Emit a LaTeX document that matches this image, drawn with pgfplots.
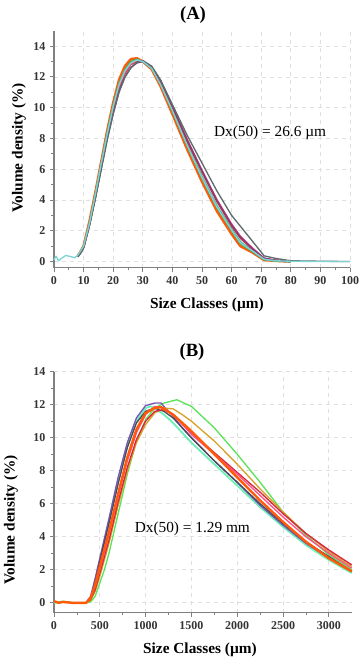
\documentclass[border=0pt]{standalone}
\usepackage{fontspec}
\setmainfont{Liberation Serif}
\usepackage{pgfplots}
\pgfplotsset{compat=1.18}

\definecolor{cOrange}{HTML}{FF5A0A}
\definecolor{cGreen}{HTML}{3CB44B}
\definecolor{cTeal}{HTML}{3FBFA0}
\definecolor{cCyan}{HTML}{7ED3D3}
\definecolor{cRed}{HTML}{D7263D}
\definecolor{cPink}{HTML}{FF4F8B}
\definecolor{cPurple}{HTML}{7B3F7B}
\definecolor{cGrey}{HTML}{5E6B6C}
\definecolor{cLime}{HTML}{5BE35B}
\definecolor{cMint}{HTML}{6FF0B8}
\definecolor{cGold}{HTML}{D6A22A}
\definecolor{cDark}{HTML}{4A4A5A}
\definecolor{axgrey}{HTML}{808080}

\pgfplotsset{
  psd/.style={
    scale only axis,
    axis lines=left,
    axis line style={-, axgrey, line width=0.8pt},
    tick align=outside,
    tick style={axgrey, line width=0.6pt},
    major tick length=3pt, minor tick length=2pt,
    minor x tick num=1, minor y tick num=1,
    grid=major,
    grid style={dashed, gray!25, line width=0.5pt},
    ticklabel style={font=\bfseries\small, text=black!80},
    /pgf/number format/assume math mode=true,
    every axis plot/.append style={line width=1pt, line join=round},
    clip=false,
  }
}

\begin{document}
\begin{tikzpicture}
\useasboundingbox (-40.5pt,23.025pt) rectangle (231pt,-471.975pt);

% ---------- (A) ----------
\begin{axis}[psd,
  at={(0pt,0pt)}, anchor=north west,
  width=222pt, height=177.75pt,
  xmin=0, xmax=100, ymin=-0.4, ymax=15,
  xtick={0,10,...,100}, ytick={0,2,...,14},
]
\addplot[cOrange, line width=2pt] coordinates {
 (8,0.35)(9,0.65)(10,1.0)(12,2.6)(14,4.5)(16,6.5)(18,8.5)(20,10.3)(22,11.8)
 (24,12.7)(26,13.15)(28,13.2)(30,13.0)(33,12.5)(36,11.4)(40,9.6)(45,7.3)
 (50,5.2)(55,3.3)(60,1.8)(63,1.0)(67,0.6)(71,0.1)(75,0.05)(80,0)
};
\addplot[cGreen] coordinates {
 (8,0.35)(9,0.6)(10,0.95)(12,2.5)(14,4.4)(16,6.4)(18,8.4)(20,10.2)(22,11.6)
 (24,12.5)(26,13.0)(28,13.15)(30,13.0)(33,12.55)(36,11.5)(40,9.75)(45,7.5)
 (50,5.4)(55,3.5)(60,2.0)(63,1.15)(67,0.65)(71,0.12)(75,0.05)(80,0)
};
\addplot[cTeal, line width=1.6pt] coordinates {
 (8,0.33)(9,0.6)(10,0.95)(12,2.45)(14,4.3)(16,6.3)(18,8.3)(20,10.0)(22,11.5)
 (24,12.4)(26,12.9)(28,13.1)(30,13.0)(33,12.6)(36,11.6)(40,9.85)(45,7.6)
 (50,5.5)(55,3.6)(60,2.1)(63,1.25)(67,0.7)(71,0.15)(75,0.05)(80,0)
};
\addplot[cRed] coordinates {
 (8,0.33)(9,0.58)(10,0.9)(12,2.4)(14,4.2)(16,6.2)(18,8.1)(20,9.8)(22,11.3)
 (24,12.2)(26,12.8)(28,13.0)(30,13.05)(33,12.65)(36,11.7)(40,10.0)(45,7.8)
 (50,5.8)(55,3.9)(60,2.3)(63,1.5)(67,0.8)(71,0.2)(75,0.08)(80,0.02)
};
\addplot[cPink] coordinates {
 (8,0.33)(9,0.58)(10,0.92)(12,2.42)(14,4.25)(16,6.25)(18,8.2)(20,9.9)(22,11.4)
 (24,12.3)(26,12.85)(28,13.05)(30,13.05)(33,12.65)(36,11.75)(40,10.1)(45,7.95)
 (50,5.95)(55,4.05)(60,2.45)(63,1.65)(67,0.9)(71,0.22)(75,0.08)(80,0.02)
};
\addplot[cPurple] coordinates {
 (8,0.32)(9,0.56)(10,0.9)(12,2.38)(14,4.15)(16,6.1)(18,8.0)(20,9.6)(22,11.1)
 (24,12.0)(26,12.6)(28,12.9)(30,13.0)(33,12.6)(36,11.75)(40,10.1)(45,7.9)
 (50,5.9)(55,4.0)(60,2.4)(63,1.6)(67,0.85)(71,0.22)(75,0.08)(80,0.02)
};
\addplot[cGrey] coordinates {
 (8,0.3)(9,0.55)(10,0.9)(12,2.35)(14,4.1)(16,6.0)(18,7.9)(20,9.6)(22,11.0)
 (24,12.0)(26,12.6)(28,12.95)(30,13.05)(33,12.7)(36,11.8)(40,10.2)(45,8.2)
 (50,6.4)(55,4.6)(60,3.0)(64,2.05)(71,0.37)(75,0.2)(80,0.05)(90,0.02)(100,0)
};
\addplot[cCyan] coordinates {
 (0,0.1)(0.7,0.35)(1.5,0.05)(2.5,0.2)(4,0.4)(5,0.35)(6,0.3)(7,0.25)(8,0.4)
 (9,0.7)(10,1.0)(12,2.5)(14,4.4)(16,6.4)(18,8.3)(20,10.1)(22,11.5)(24,12.4)
 (26,12.9)(28,13.1)(30,13.0)(33,12.55)(36,11.5)(40,9.8)(45,7.55)(50,5.45)
 (55,3.55)(60,2.05)(63,1.2)(67,0.7)(71,0.15)(75,0.05)(80,0.02)(90,0)(100,0)
};
\node[font=\fontsize{11.5}{13}\selectfont] at (axis cs:73,8.34) {Dx(50) = 26.6 µm};
\end{axis}

% ---------- (B) ----------
\begin{axis}[psd,
  at={(0pt,-255.75pt)}, anchor=north west,
  width=223.3pt, height=180.75pt,
  xmin=0, xmax=3250, ymin=-0.6, ymax=14,
  xtick={0,500,...,3000}, ytick={0,2,...,14},
  scaled x ticks=false,
  xticklabel style={/pgf/number format/set thousands separator={}},
]
\addplot[cMint, line width=1.4pt] coordinates {
 (0,0)(100,0.05)(200,0)(350,0)(400,0.3)(450,1.2)(500,2.4)(600,4.9)(700,7.4)
 (800,9.5)(900,11.0)(1000,11.8)(1050,11.9)(1100,11.8)(1200,11.4)(1300,10.9)
 (1400,10.3)(1500,9.7)(1750,8.4)(2000,7.1)(2250,5.8)(2500,4.6)(2750,3.5)
 (3000,2.6)(3250,1.8)
};
\addplot[cLime] coordinates {
 (0,0)(100,0.1)(200,0)(350,0)(400,0.05)(450,0.4)(500,1.2)(550,2.0)(600,3.0)
 (700,5.4)(800,7.8)(900,9.8)(1000,11.1)(1100,11.8)(1200,12.1)(1340,12.3)
 (1500,11.9)(1750,10.6)(2000,9.0)(2250,7.3)(2500,5.5)(2750,4.1)(3000,2.9)
 (3250,2.0)
};
\addplot[cPurple!70!blue!80] coordinates {
 (350,0)(400,0.4)(450,1.5)(500,2.7)(600,5.1)(700,7.6)(800,9.7)(900,11.2)
 (1000,11.95)(1100,12.1)(1170,12.1)(1200,11.9)(1300,11.3)(1400,10.6)
 (1500,10.0)(1750,8.6)(2000,7.3)(2250,5.9)(2500,4.7)(2750,3.6)(3000,2.7)
 (3250,1.9)
};
\addplot[cDark] coordinates {
 (350,0)(400,0.3)(450,1.3)(500,2.5)(600,4.8)(700,7.2)(800,9.4)(900,10.9)
 (1000,11.6)(1100,11.8)(1200,11.6)(1300,11.2)(1400,10.6)(1500,10.0)
 (1750,8.6)(2000,7.3)(2250,6.0)(2500,4.8)(2750,3.7)(3000,2.8)(3250,1.9)
};
\addplot[cGold] coordinates {
 (350,0)(400,0.15)(450,0.7)(500,1.6)(600,3.6)(700,5.9)(800,8.0)(900,9.7)
 (1000,10.8)(1100,11.5)(1200,11.8)(1300,11.75)(1400,11.4)(1500,11.0)
 (1750,9.8)(2000,8.4)(2250,6.9)(2500,5.5)(2750,4.2)(3000,3.1)(3250,2.2)
};
\addplot[cRed] coordinates {
 (350,0)(400,0.2)(450,0.8)(500,1.8)(600,3.8)(700,6.1)(800,8.2)(900,9.9)
 (1000,11.0)(1100,11.6)(1200,11.7)(1300,11.4)(1400,10.9)(1500,10.3)
 (1750,9.1)(2000,7.9)(2250,6.7)(2500,5.4)(2750,4.2)(3000,3.2)(3250,2.3)
};
\addplot[cPink] coordinates {
 (350,0)(400,0.25)(450,1.0)(500,2.0)(600,4.1)(700,6.4)(800,8.6)(900,10.3)
 (1000,11.4)(1100,11.9)(1200,11.8)(1300,11.4)(1400,10.8)(1500,10.2)
 (1750,9.0)(2000,7.8)(2250,6.5)(2500,5.2)(2750,4.0)(3000,3.0)(3250,2.1)
};
\addplot[cOrange, line width=1.8pt] coordinates {
 (0,0.1)(50,0)(100,0.05)(200,0)(350,0)(400,0.3)(450,1.1)(500,2.2)(600,4.3)
 (700,6.6)(800,8.8)(900,10.5)(1000,11.5)(1100,11.8)(1170,11.85)(1200,11.75)
 (1300,11.4)(1400,10.9)(1500,10.4)(1750,9.0)(2000,7.6)(2250,6.2)(2500,4.9)
 (2750,3.7)(3000,2.7)(3250,1.9)
};
\node[font=\fontsize{11.5}{13}\selectfont] at (axis cs:1510,4.47) {Dx(50) = 1.29 mm};
\end{axis}

% titles and axis labels
\node[font=\bfseries\fontsize{14}{16}\selectfont] at (104.25pt,11.8pt) {(A)};
\node[font=\bfseries\fontsize{11.5}{13}\selectfont] at (114.75pt,-205.7pt) {Size Classes (µm)};
\node[font=\bfseries\fontsize{11.5}{13}\selectfont, rotate=90] at (-26.25pt,-88pt) {Volume density (\%)};
\node[font=\bfseries\fontsize{14}{16}\selectfont] at (103.5pt,-240.75pt) {(B)};
\node[font=\bfseries\fontsize{11.5}{13}\selectfont] at (109.5pt,-464.5pt) {Size Classes (µm)};
\node[font=\bfseries\fontsize{11.5}{13}\selectfont, rotate=90] at (-32.25pt,-367pt) {Volume density (\%)};
\end{tikzpicture}
\end{document}
